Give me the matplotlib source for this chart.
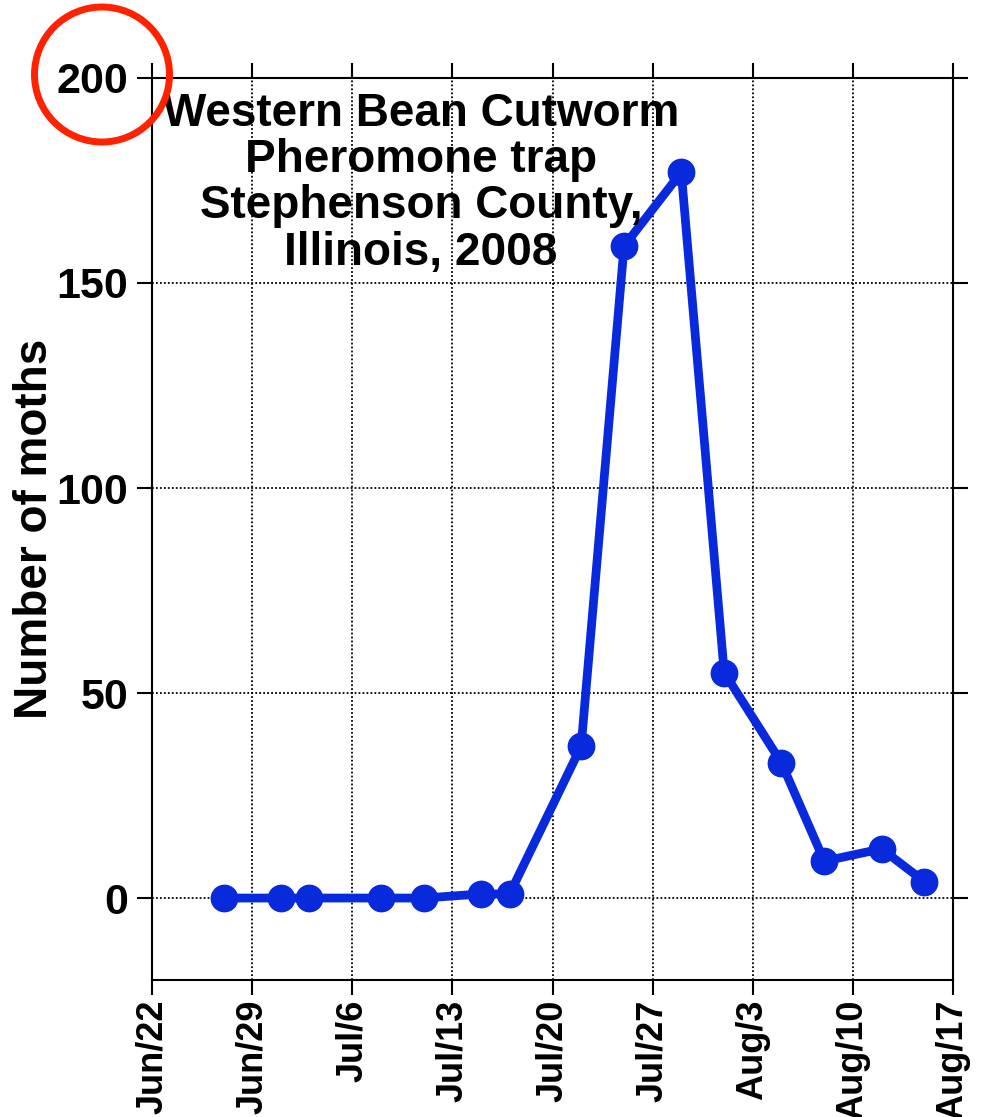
import datetime as dt
import matplotlib
matplotlib.use("Agg")
import matplotlib.pyplot as plt
import matplotlib.dates as mdates
from matplotlib.patches import Circle

# trap catch dates and moth counts
dates = ["2008-06-27", "2008-07-01", "2008-07-03", "2008-07-08", "2008-07-11",
         "2008-07-15", "2008-07-17", "2008-07-22", "2008-07-25", "2008-07-29",
         "2008-08-01", "2008-08-05", "2008-08-08", "2008-08-12", "2008-08-15"]
moths = [0, 0, 0, 0, 0, 1, 1, 37, 159, 177, 55, 33, 9, 12, 4]

tick_dates = ["2008-06-22", "2008-06-29", "2008-07-06", "2008-07-13", "2008-07-20",
              "2008-07-27", "2008-08-03", "2008-08-10", "2008-08-17"]
tick_labels = ["Jun/22", "Jun/29", "Jul/6", "Jul/13", "Jul/20",
               "Jul/27", "Aug/3", "Aug/10", "Aug/17"]
y_ticks = [0, 50, 100, 150, 200]

title = "Western Bean Cutworm\nPheromone trap\nStephenson County,\nIllinois, 2008"

plt.rcParams['font.family'] = ['Liberation Sans', 'DejaVu Sans']
plt.rcParams['font.weight'] = 'bold'

x = [dt.datetime.strptime(d, "%Y-%m-%d") for d in dates]
xt = [dt.datetime.strptime(d, "%Y-%m-%d") for d in tick_dates]

fig = plt.figure(figsize=(9.81, 11.17), dpi=100)
ax = fig.add_axes([0.155, 0.1226, 0.8165, 0.8076])

ax.plot(x, moths, color='#0829dc', linewidth=6.3, marker='o', markersize=19,
        solid_joinstyle='round', zorder=3)

ax.set_xlim(xt[0], xt[-1])
ax.set_ylim(-20, 200)
ax.set_xticks(xt)
ax.set_xticklabels(tick_labels, rotation=90, fontsize=26, fontweight='bold')
ax.set_yticks(y_ticks)
ax.set_yticklabels([str(v) for v in y_ticks], fontsize=31, fontweight='bold')

ax.tick_params(axis='both', direction='out', length=11, width=1.5,
               top=True, right=True, color='black')
ax.tick_params(axis='x', pad=3)
ax.tick_params(axis='y', pad=6)
for s in ax.spines.values():
    s.set_linewidth(1.5)

# dotted grid at the major ticks
ax.grid(True, color='black', linestyle=(0, (1, 1.2)), linewidth=1.3)
ax.set_axisbelow(True)

ax.set_ylabel("Number of moths", fontsize=33, fontweight='bold')
ax.yaxis.set_label_coords(-0.119, 0.5)

ax.text(0.336, 0.984, title, transform=ax.transAxes, ha='center', va='top',
        fontsize=33, fontweight='bold', linespacing=1.06, zorder=4)

# red circle around the 200 label
fig.patches.append(Circle((1.02, 10.425), 0.675, transform=fig.dpi_scale_trans,
                          fill=False, edgecolor='#ff2200', linewidth=5))

plt.savefig("out.png", dpi=100)
plt.close()
